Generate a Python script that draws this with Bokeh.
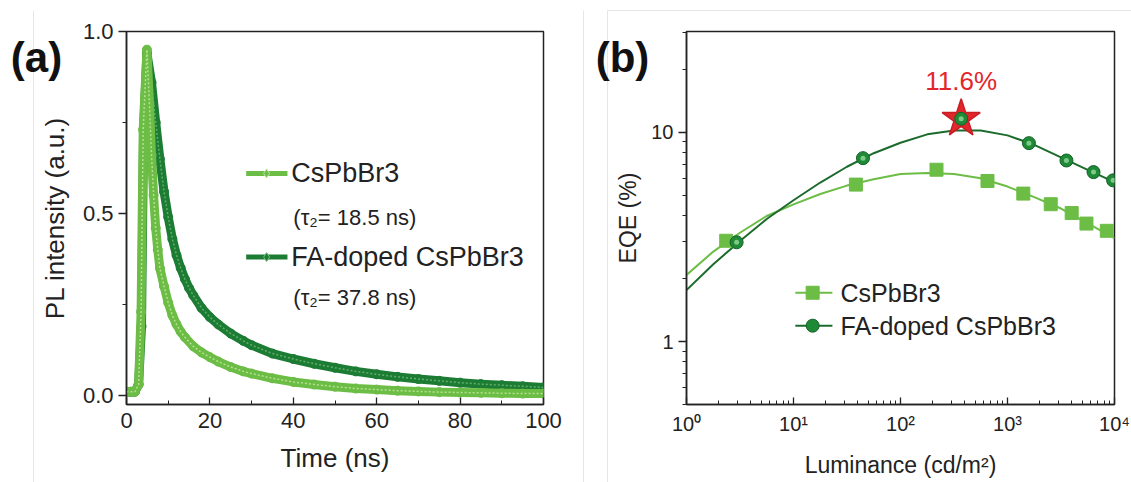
from bokeh.plotting import figure
from bokeh.models import (Range1d, FixedTicker, SingleIntervalTicker, Label, CustomJSTickFormatter,
                          GridBox)
from bokeh.embed import file_html
from bokeh.resources import INLINE

# ---------------- data: panel (a) time-resolved PL ----------------
t_cs = [0, 1, 2, 2.9, 3.5, 4.0, 4.9, 5.5, 6, 6.5, 7, 7.5, 8, 9, 10, 11, 12, 13, 14, 16, 18, 20,
        22, 25, 28, 30, 35, 40, 45, 50, 55, 60, 65, 70, 75, 80, 85, 90, 95, 100]
pl_cs = [0.01, 0.01, 0.01, 0.03, 0.23, 0.73, 0.95, 0.80, 0.66, 0.55, 0.46, 0.40, 0.35, 0.30, 0.255,
         0.22, 0.195, 0.175, 0.16, 0.135, 0.118, 0.105, 0.093, 0.078, 0.066, 0.06, 0.047, 0.037,
         0.03, 0.024, 0.019, 0.016, 0.013, 0.011, 0.009, 0.008, 0.007, 0.006, 0.005, 0.005]
t_fa = [0, 1, 2, 2.9, 3.6, 4.1, 4.9, 6, 7, 8, 9, 10, 11, 12, 13, 14, 15, 16, 18, 20, 22, 25, 28,
        30, 35, 40, 45, 50, 55, 60, 65, 70, 75, 80, 85, 90, 95, 100]
pl_fa = [0.01, 0.01, 0.01, 0.03, 0.19, 0.73, 0.94, 0.86, 0.75, 0.65, 0.56, 0.49, 0.43, 0.385,
         0.35, 0.32, 0.295, 0.275, 0.24, 0.215, 0.195, 0.17, 0.15, 0.138, 0.115, 0.10, 0.087,
         0.076, 0.066, 0.058, 0.051, 0.045, 0.04, 0.035, 0.031, 0.028, 0.025, 0.022]
names = ["CsPbBr3", "FA-doped CsPbBr3"]
tau_texts = ["(\u03c4\u2082= 18.5 ns)", "(\u03c4\u2082= 37.8 ns)"]
panel_letters = ["(a)", "(b)"]

# ---------------- data: panel (b) EQE vs luminance ----------------
lum_cs = [2.35, 38.3, 217, 650, 1405, 2535, 3981, 5470, 8470]
eqe_cs = [3.03, 5.62, 6.62, 5.85, 5.09, 4.53, 4.11, 3.66, 3.38]
lum_fa = [2.94, 44.6, 369, 1585, 3556, 6368, 9700]
eqe_fa = [2.98, 7.52, 11.6, 8.87, 7.33, 6.45, 5.89]
fit_lum = [1, 1.78, 3.16, 5.62, 10, 17.8, 31.6, 56.2, 100, 178, 316, 562, 1000, 1778, 3162, 5623, 10000]
fit_cs = [2.08, 2.69, 3.31, 3.98, 4.52, 5.07, 5.56, 5.96, 6.31, 6.38, 6.31, 6.03, 5.50, 4.90, 4.32, 3.67, 3.12]
fit_fa = [1.76, 2.34, 3.02, 3.85, 4.73, 5.75, 6.84, 7.94, 8.91, 9.77, 10.2, 10.2, 9.66, 8.71, 7.59, 6.61, 5.78]
peak_lum = [369]
peak_eqe = [11.6]
peak_text = "11.6%"

LIGHT = "#6cbd45"
DARK = "#1d7c34"
RED = "#e3262b"
FONT = "Liberation Sans"


def style_axes(p, tick_size, label_size):
    for ax in (p.xaxis[0], p.yaxis[0]):
        ax.axis_line_color = "#222222"
        ax.axis_line_width = 1.5
        ax.major_tick_line_color = "#222222"
        ax.minor_tick_line_color = "#222222"
        ax.major_tick_line_width = 1.3
        ax.major_label_text_font = FONT
        ax.major_label_text_font_size = f"{tick_size}px"
        ax.major_label_text_color = "#222222"
        ax.axis_label_text_font = FONT
        ax.axis_label_text_font_size = f"{label_size}px"
        ax.axis_label_text_font_style = "normal"
        ax.axis_label_text_color = "#222222"
    xa, ya = p.xaxis[0], p.yaxis[0]
    xa.major_tick_in, xa.major_tick_out = 7, 0
    xa.minor_tick_in, xa.minor_tick_out = 4, 0
    ya.major_tick_in, ya.major_tick_out = 0, 8
    ya.minor_tick_in, ya.minor_tick_out = 0, 4
    p.outline_line_color = "#222222"
    p.outline_line_width = 1.5
    p.xgrid.visible = False
    p.ygrid.visible = False


# ---------------- panel (a) ----------------
pa = figure(width=565, height=482, output_backend="svg", toolbar_location=None,
            x_range=Range1d(0, 100), y_range=Range1d(-0.025, 1.0),
            min_border_left=126, min_border_right=22, min_border_top=31, min_border_bottom=78)
style_axes(pa, 22, 26)
pa.xaxis.ticker = SingleIntervalTicker(interval=20, num_minor_ticks=2)
pa.yaxis.ticker = SingleIntervalTicker(interval=0.5, num_minor_ticks=2)
pa.yaxis.formatter = CustomJSTickFormatter(code="return tick.toFixed(1);")
pa.xaxis.axis_label = "Time (ns)"
pa.yaxis.axis_label = "PL intensity (a.u.)"
pa.xaxis.major_label_standoff = 8
pa.xaxis.axis_label_standoff = 12
pa.yaxis.major_label_standoff = 5
pa.yaxis.axis_label_standoff = 10

for t, v, c, lc in ((t_fa, pl_fa, DARK, "#5fae68"), (t_cs, pl_cs, LIGHT, "#b5e08f")):
    pa.line(t, v, line_color=c, line_width=9, line_join="round")
    pa.scatter(t, v, size=9, marker="circle", fill_color=c, line_color=c)
    pa.line(t, v, line_color=lc, line_width=1.5, line_dash="2 2")

# custom legend (a)
leg_rows_y = [0.61, 0.38]
tau_rows_y = [0.49, 0.27]
for name, tau, y, ty, c in zip(names, tau_texts, leg_rows_y, tau_rows_y, (LIGHT, DARK)):
    pa.line([28.7, 38.6], [y, y], line_color=c, line_width=5)
    pa.scatter([33.6], [y], marker="diamond", size=9, fill_color=c,
               line_color="#bfe6a0" if c == LIGHT else "#6fbf7a")
    pa.add_layout(Label(x=39.5, y=y, text=name, text_font=FONT, text_font_size="27px",
                        text_baseline="middle", text_color="#222222"))
    pa.add_layout(Label(x=40.0, y=ty, text=tau, text_font=FONT, text_font_size="22px",
                        text_baseline="middle", text_color="#222222"))

# ---------------- panel (b) ----------------
pb = figure(width=566, height=482, output_backend="svg", toolbar_location=None,
            x_axis_type="log", y_axis_type="log",
            x_range=Range1d(1, 10000), y_range=Range1d(0.5, 30.3),
            min_border_left=121, min_border_right=17, min_border_top=31, min_border_bottom=77)
style_axes(pb, 20, 23)
xminor = [m * d for d in (1, 10, 100, 1000) for m in range(2, 10)]
pb.xaxis.ticker = FixedTicker(ticks=[1, 10, 100, 1000, 10000], minor_ticks=xminor)
pb.yaxis.ticker = FixedTicker(ticks=[1, 10],
                              minor_ticks=[0.5, 0.6, 0.7, 0.8, 0.9] + [m for m in range(2, 10)] + [20, 30])
pb.xaxis.formatter = CustomJSTickFormatter(
    code="const s={0:'\u2070',1:'\u00b9',2:'\u00b2',3:'\u00b3',4:'\u2074'}; return '10'+s[Math.round(Math.log10(tick))];")
pb.yaxis.formatter = CustomJSTickFormatter(code="return String(Math.round(tick));")
pb.xaxis.axis_label = "Luminance (cd/m\u00b2)"
pb.yaxis.axis_label = "EQE (%)"
pb.xaxis.major_label_standoff = 8
pb.xaxis.axis_label_standoff = 14
pb.yaxis.major_label_standoff = 5
pb.yaxis.axis_label_standoff = 7

pb.line(fit_lum, fit_cs, line_color=LIGHT, line_width=2)
pb.line(fit_lum, fit_fa, line_color="#1b6b2c", line_width=2)
pb.scatter(lum_cs, eqe_cs, marker="square", size=13, fill_color=LIGHT, line_color=LIGHT)
pb.scatter(peak_lum, peak_eqe, marker="star", size=40, fill_color=RED, line_color="#c81e23", line_width=1.5)
pb.scatter(lum_fa, eqe_fa, marker="circle", size=13, fill_color="#1f8a36", line_color="#14612a")
pb.scatter(lum_fa, eqe_fa, marker="circle", size=5, fill_color="#7cc98a", line_color=None)
pb.add_layout(Label(x=peak_lum[0], y=17.6, text=peak_text, text_font=FONT, text_font_size="26px",
                    text_align="center", text_baseline="middle", text_color=RED))

# legend (b)
leg_y = [1.71, 1.19]
for name, y, mk, fc, lc in zip(names, leg_y, ("square", "circle"), (LIGHT, "#1f8a36"), (LIGHT, "#14612a")):
    pb.line([10.4, 23.1], [y, y], line_color=LIGHT if mk == "square" else "#1b6b2c", line_width=2)
    pb.scatter([15.1], [y], marker=mk, size=13, fill_color=fc, line_color=lc)
    pb.add_layout(Label(x=27.5, y=y, text=name, text_font=FONT, text_font_size="25px",
                        text_baseline="middle", text_color="#222222"))

# ---------------- transparent overlay for panel letters ----------------
ov = figure(width=1131, height=482, output_backend="svg", toolbar_location=None,
            x_range=Range1d(0, 1131), y_range=Range1d(482, 0),
            min_border=0, x_axis_location=None, y_axis_location=None)
ov.frame_align = False
ov.xgrid.visible = False
ov.ygrid.visible = False
ov.outline_line_color = None
ov.background_fill_color = None
ov.border_fill_color = None
# faint separators of the composite figure
ov.segment(x0=[33, 583, 607, 607], y0=[10, 10, 10, 10], x1=[33, 583, 607, 1131], y1=[482, 482, 482, 10],
           line_color="#e6e6e6", line_width=1)
for letter, lx in zip(panel_letters, (36, 622)):
    ov.add_layout(Label(x=lx, y=57, text=letter, text_font=FONT, text_font_size="42px",
                        text_font_style="bold", text_align="center", text_baseline="middle",
                        text_color="#111111"))

layout = GridBox(children=[(pa, 0, 0), (pb, 0, 1), (ov, 0, 0, 1, 2)], spacing=0)
open("out.html", "w").write(file_html(layout, INLINE))
